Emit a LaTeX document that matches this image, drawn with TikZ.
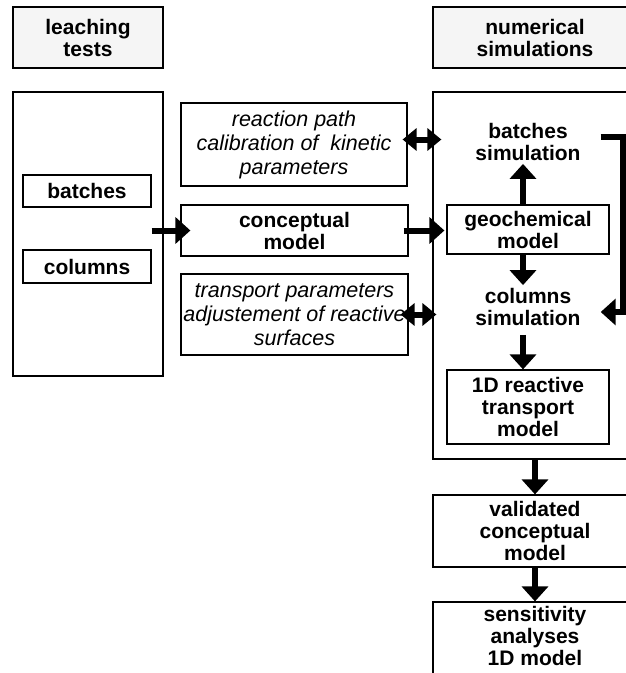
\documentclass[tikz,border=0pt]{standalone}
\usepackage{fontspec}
\setmainfont{Liberation Sans}
\usetikzlibrary{arrows.meta,calc}

\begin{document}
\begin{tikzpicture}[x=1pt,y=-1pt,
  box/.style={draw,line width=1.2pt,inner sep=0pt,align=center,
    font=\fontsize{21}{22}\selectfont\bfseries},
  head/.style={box,fill=gray!8},
  note/.style={box,font=\fontsize{21.5}{24}\selectfont\itshape},
  txt/.style={inner sep=3pt,align=center,font=\fontsize{21}{22}\selectfont\bfseries},
  arr/.style={line width=6pt,-{Triangle[length=15pt,width=26pt]}},
  darr/.style={line width=6pt,{Triangle[length=14pt,width=22pt]}-{Triangle[length=14pt,width=22pt]}}]
  % Frame
  \useasboundingbox (0,0) rectangle (626,673);
  \clip (0,0) rectangle (626,673);

  % Headers
  \node[head,minimum width=150pt,minimum height=61pt] (leach) at (88,37.5) {leaching\\tests};
  \node[head,minimum width=204pt,minimum height=61pt] (numsim) at (535,37.5) {numerical\\simulations};

  % Leaching tests
  \node[box,minimum width=150pt,minimum height=284pt] (tests) at (88,234) {};
  \node[box,minimum width=128pt,minimum height=32pt] (batch) at (87,191) {batches};
  \node[box,minimum width=128pt,minimum height=33pt] (column) at (87,266.5) {columns};

  % Middle boxes
  \node[note,minimum width=226pt,minimum height=83pt] (kinetic) at (294,144.5)
    {reaction path\\calibration of~ kinetic\\parameters};
  \node[box,minimum width=227pt,minimum height=51pt] (concept) at (294.5,230.5) {conceptual\\model};
  \node[note,minimum width=227pt,minimum height=81pt] (transp) at (294.5,314.5)
    {transport parameters\\adjustement of reactive\\surfaces};

  % Numerical simulations
  \node[box,minimum width=204pt,minimum height=367pt] (numbox) at (535,275.5) {};
  \node[txt] (batchsim) at (528,142) {batches\\simulation};
  \node[box,minimum width=162pt,minimum height=49pt] (geochem) at (528,229.5) {geochemical\\model};
  \node[txt] (colsim) at (528,307) {columns\\simulation};
  \node[box,minimum width=162pt,minimum height=74pt] (reactive) at (528,407) {1D reactive\\transport\\model};

  % Results
  \node[box,minimum width=204pt,minimum height=72pt] (valid) at (535,531) {validated\\conceptual\\model};
  \node[box,minimum width=204pt,minimum height=84pt] (sensit) at (535,644) {};
  \node[txt] (sensitxt) at (535,636) {sensitivity\\analyses\\1D model};

  % Arrows
  \draw[arr] ([xshift=-12pt]tests.east |- concept.west) -- ([xshift=10pt]concept.west);
  \draw[arr] ([xshift=-5pt]concept.east) -- ([xshift=-2pt]concept.east -| geochem.west);
  \draw[darr] ([xshift=-5pt,yshift=5pt]kinetic.east) -- ([xshift=9pt,yshift=5pt]kinetic.east -| numbox.west);
  \draw[darr] ([xshift=-8pt]transp.east) -- ([xshift=4pt]transp.east -| numbox.west);
  \draw[arr] ([xshift=-5pt]geochem.north) -- ([xshift=-5pt]geochem.north |- batchsim.south);
  \draw[arr] ([xshift=-5pt]geochem.south) -- ([xshift=-5pt]geochem.south |- colsim.north);
  \draw[arr,shorten <=6pt] ([xshift=-5pt]colsim.south) -- ([xshift=-5pt]colsim.south |- reactive.north);

  % Loop from batches to columns
  \draw[arr] ([xshift=17pt,yshift=5pt]batchsim.east) -- ++(22,0) |- ([xshift=17pt,yshift=-5pt]colsim.east);

  \draw[arr] (numbox.south) -- (valid.north);
  \draw[arr] (valid.south) -- (sensit.north);
\end{tikzpicture}
\end{document}
